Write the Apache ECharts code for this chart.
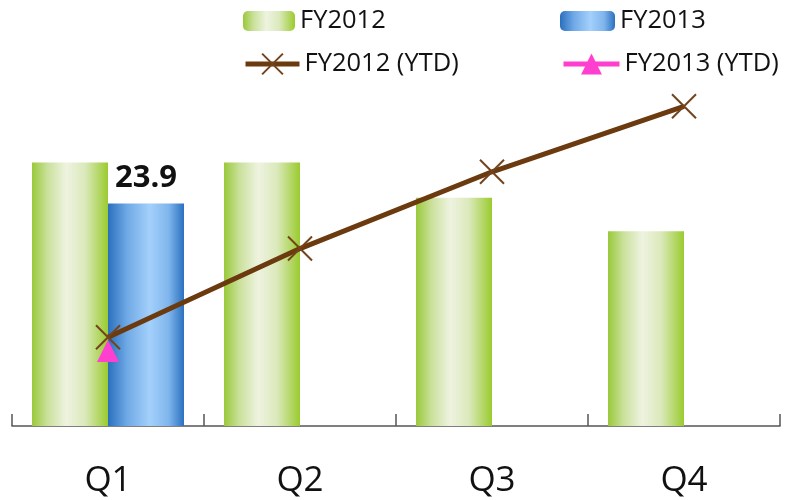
<!DOCTYPE html>
<html>
<head>
<meta charset="utf-8">
<script src="https://cdn.jsdelivr.net/npm/echarts@6/dist/echarts.min.js"></script>
<style>
  html, body { margin: 0; padding: 0; background: #fff; }
  #chart { width: 794px; height: 500px; }
</style>
</head>
<body>
<div id="chart"></div>
<script>
// Quarterly figures and year-to-date totals
const quarters = ['Q1', 'Q2', 'Q3', 'Q4'];
const fy2012 = [28.3, 28.3, 24.5, 20.9];
const fy2013 = [23.9, null, null, null];
const fy2012Ytd = [28.3, 56.6, 81.1, 102.0];
const fy2013Ytd = [23.9, null, null, null];

const FONT = 'Open Sans, Liberation Sans, sans-serif';

const greenGrad = new echarts.graphic.LinearGradient(0, 0, 1, 0, [
  { offset: 0, color: '#99c93a' },
  { offset: 0.2, color: '#c9e09a' },
  { offset: 0.45, color: '#eef3e0' },
  { offset: 0.7, color: '#dbe9bb' },
  { offset: 1, color: '#9acb2f' }
]);
const blueGrad = new echarts.graphic.LinearGradient(0, 0, 1, 0, [
  { offset: 0, color: '#2a6fbd' },
  { offset: 0.25, color: '#6fa9e6' },
  { offset: 0.55, color: '#a4d0fb' },
  { offset: 0.8, color: '#7fb5ec' },
  { offset: 1, color: '#2b71c0' }
]);

const crossPath = 'path://M0,0L10,10M10,0L0,10';

const chart = echarts.init(document.getElementById('chart'), null, { renderer: 'canvas' });

const legendText = { fontFamily: FONT, fontSize: 25.5, color: '#111' };

chart.setOption({
  animation: false,
  grid: { left: 12, right: 14, top: 100, bottom: 74 },
  legend: [
    { data: ['FY2012'], left: 238, top: 3, itemWidth: 52, itemHeight: 20, itemGap: 3, textStyle: legendText },
    { data: ['FY2013'], left: 555, top: 3, itemWidth: 55, itemHeight: 20, itemGap: 3, textStyle: legendText },
    { data: ['FY2012 (YTD)'], left: 238, top: 46, itemWidth: 54, itemHeight: 26, itemGap: 2,
      textStyle: legendText, lineStyle: { width: 5 } },
    { data: ['FY2013 (YTD)'], left: 556, top: 46, itemWidth: 56, itemHeight: 26, itemGap: 2,
      textStyle: legendText, lineStyle: { width: 5 } }
  ],
  xAxis: {
    type: 'category',
    data: quarters,
    boundaryGap: true,
    axisLine: { lineStyle: { color: '#555', width: 1.5 } },
    axisTick: { show: true, inside: true, length: 12, interval: 0, lineStyle: { color: '#555', width: 1.5 } },
    axisLabel: { fontFamily: FONT, fontSize: 35, color: '#111', margin: 38 }
  },
  yAxis: [
    { type: 'value', min: 0, max: 35, show: false, splitLine: { show: false } },
    { type: 'value', min: 0, max: 104, show: false, splitLine: { show: false } }
  ],
  series: [
    {
      name: 'FY2012', type: 'bar', data: fy2012, barWidth: 76, barGap: '0%',
      itemStyle: { color: greenGrad }
    },
    {
      name: 'FY2013', type: 'bar', data: fy2013, barWidth: 76,
      itemStyle: { color: blueGrad },
      label: {
        show: true, position: 'top', distance: 10,
        fontFamily: FONT, fontWeight: 'bold', fontSize: 31, color: '#111'
      }
    },
    {
      name: 'FY2012 (YTD)', type: 'line', yAxisIndex: 1, data: fy2012Ytd,
      lineStyle: { color: '#6b3a0f', width: 5 },
      symbol: crossPath, symbolSize: 24,
      itemStyle: { color: 'rgba(0,0,0,0)', borderColor: '#74431c', borderWidth: 2 },
      z: 5
    },
    {
      name: 'FY2013 (YTD)', type: 'line', yAxisIndex: 1, data: fy2013Ytd,
      lineStyle: { color: '#ff3fcf', width: 5 },
      symbol: 'triangle', symbolSize: 22,
      itemStyle: { color: '#ff3fcf' },
      z: 4
    }
  ]
});
</script>
</body>
</html>
